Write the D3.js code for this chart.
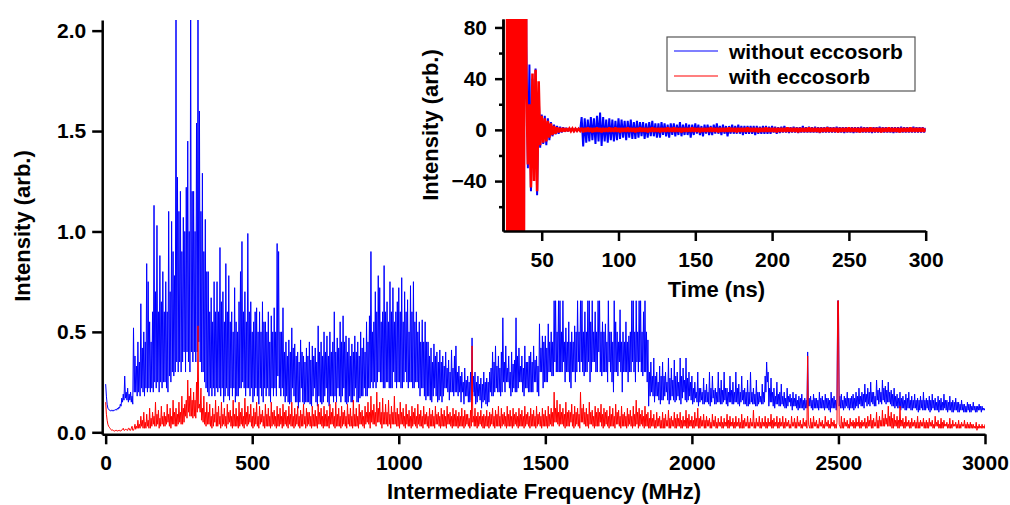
<!DOCTYPE html>
<html><head><meta charset="utf-8">
<script src="https://cdn.jsdelivr.net/npm/d3@7"></script>
<style>
html,body{margin:0;padding:0;background:#fff;}
svg{display:block;}
text{font-family:"Liberation Sans",Arial,sans-serif;font-weight:bold;fill:#000;}
</style></head><body>
<svg id="chart" width="1010" height="505"></svg>
<script>
// ---- main spectrum (MHz, 2.5 MHz sampling, one row = 50 MHz) ----
const freqStart = 0, freqStep = 2.5;
const blueSpectrum = [
0.24,0.18,0.14,0.12,0.115,0.11,0.11,0.105,0.11,0.11,0.105,0.11,0.11,0.11,0.115,0.11,0.12,0.115,0.125,0.12,
0.14,0.13,0.17,0.15,0.19,0.16,0.28,0.17,0.2,0.16,0.22,0.15,0.19,0.16,0.2,0.15,0.18,0.14,0.52,0.2,
0.38,0.2,0.33,0.18,0.45,0.2,0.35,0.18,0.64,0.22,0.42,0.2,0.5,0.18,0.45,0.22,0.84,0.2,0.75,0.22,
0.55,0.2,0.45,0.22,0.6,0.2,1.13,0.25,0.7,0.22,1.03,0.25,0.6,0.2,0.88,0.25,0.65,0.22,0.8,0.25,
0.6,0.25,0.75,0.22,0.6,0.2,1.1,0.28,0.7,0.25,1.05,0.3,0.9,0.28,0.78,0.3,2.1,0.35,1.27,0.3,
1.1,0.35,1.2,0.3,0.9,0.35,1.07,0.4,1.0,0.3,1.22,0.4,1.45,0.35,1.0,0.3,2.1,0.4,1.2,0.35,
1.2,0.4,1.0,0.35,1.54,0.4,2.1,0.45,1.6,0.35,1.1,0.3,1.29,0.3,0.9,0.25,1.06,0.22,0.8,0.2,
0.8,0.18,0.6,0.22,0.67,0.18,0.55,0.22,0.75,0.18,0.6,0.22,0.75,0.2,0.6,0.22,0.92,0.18,0.65,0.22,
0.7,0.15,0.55,0.18,0.84,0.22,0.6,0.18,0.78,0.16,0.55,0.22,0.6,0.18,0.5,0.22,0.72,0.15,0.55,0.18,
0.5,0.18,0.65,0.22,0.8,0.22,0.95,0.25,0.6,0.22,0.7,0.18,0.55,0.22,0.99,0.22,0.6,0.18,0.65,0.22,
0.5,0.15,0.55,0.18,0.6,0.22,0.62,0.18,0.5,0.14,0.6,0.22,0.5,0.18,0.65,0.15,0.55,0.22,0.55,0.18,
0.5,0.22,0.6,0.18,0.45,0.15,0.58,0.22,0.5,0.18,0.62,0.22,0.5,0.18,0.94,0.28,0.9,0.22,0.5,0.18,
0.5,0.22,0.62,0.18,0.4,0.15,0.45,0.18,0.38,0.15,0.46,0.14,0.4,0.15,0.52,0.22,0.42,0.18,0.44,0.15,
0.38,0.15,0.4,0.12,0.35,0.15,0.46,0.22,0.4,0.15,0.38,0.14,0.35,0.15,0.42,0.15,0.38,0.15,0.45,0.14,
0.36,0.13,0.43,0.18,0.38,0.22,0.42,0.15,0.35,0.13,0.53,0.18,0.4,0.15,0.45,0.14,0.38,0.15,0.5,0.18,
0.4,0.22,0.48,0.15,0.38,0.13,0.5,0.18,0.4,0.18,0.45,0.15,0.6,0.18,0.4,0.15,0.47,0.22,0.42,0.18,
0.55,0.15,0.45,0.18,0.58,0.22,0.45,0.15,0.48,0.14,0.4,0.15,0.47,0.18,0.38,0.15,0.44,0.15,0.4,0.18,
0.48,0.22,0.4,0.15,0.45,0.15,0.38,0.17,0.5,0.18,0.42,0.18,0.47,0.22,0.4,0.18,0.55,0.18,0.45,0.22,
0.58,0.22,0.9,0.25,0.5,0.22,0.55,0.25,0.7,0.22,0.6,0.25,0.78,0.3,0.72,0.25,0.55,0.25,0.6,0.22,
0.83,0.22,0.6,0.25,0.65,0.25,0.55,0.22,0.75,0.22,0.6,0.22,0.72,0.3,0.55,0.25,0.6,0.22,0.65,0.25,
0.72,0.25,0.6,0.22,0.77,0.22,0.55,0.25,0.7,0.3,0.6,0.25,0.66,0.22,0.5,0.25,0.73,0.25,0.6,0.22,
0.75,0.22,0.55,0.25,0.6,0.25,0.5,0.22,0.55,0.18,0.45,0.22,0.56,0.22,0.45,0.18,0.55,0.16,0.45,0.18,
0.45,0.18,0.38,0.16,0.42,0.15,0.35,0.18,0.44,0.22,0.38,0.18,0.4,0.15,0.35,0.16,0.41,0.18,0.35,0.15,
0.38,0.18,0.33,0.22,0.4,0.22,0.32,0.2,0.36,0.16,0.3,0.2,0.41,0.2,0.32,0.18,0.38,0.2,0.43,0.2,
0.3,0.18,0.33,0.2,0.28,0.15,0.3,0.2,0.25,0.14,0.32,0.18,0.26,0.18,0.28,0.15,0.25,0.15,0.3,0.16,
0.47,0.2,0.28,0.18,0.3,0.14,0.25,0.15,0.28,0.18,0.24,0.16,0.27,0.12,0.24,0.15,0.3,0.16,0.25,0.14,
0.27,0.13,0.25,0.15,0.3,0.2,0.32,0.18,0.4,0.18,0.35,0.2,0.43,0.22,0.33,0.2,0.38,0.2,0.32,0.18,
0.4,0.2,0.57,0.25,0.35,0.2,0.43,0.25,0.32,0.25,0.38,0.22,0.3,0.18,0.4,0.2,0.34,0.22,0.36,0.2,
0.57,0.2,0.38,0.22,0.42,0.25,0.33,0.25,0.38,0.2,0.32,0.18,0.43,0.22,0.35,0.22,0.35,0.2,0.38,0.2,
0.4,0.2,0.35,0.2,0.43,0.25,0.36,0.25,0.38,0.2,0.33,0.18,0.54,0.3,0.42,0.3,0.48,0.22,0.45,0.25,
0.48,0.25,0.42,0.25,0.54,0.3,0.45,0.3,0.5,0.28,0.45,0.28,0.655,0.35,0.655,0.3,0.5,0.3,0.655,0.3,
0.655,0.3,0.5,0.3,0.655,0.35,0.45,0.25,0.52,0.3,0.45,0.3,0.55,0.25,0.45,0.22,0.5,0.3,0.45,0.3,
0.53,0.25,0.5,0.3,0.655,0.35,0.5,0.3,0.655,0.35,0.655,0.3,0.5,0.28,0.6,0.3,0.5,0.3,0.655,0.35,
0.655,0.25,0.55,0.3,0.655,0.35,0.5,0.35,0.6,0.3,0.5,0.3,0.655,0.4,0.655,0.3,0.5,0.28,0.55,0.3,
0.5,0.3,0.54,0.3,0.45,0.25,0.655,0.35,0.5,0.3,0.5,0.25,0.45,0.2,0.655,0.3,0.55,0.3,0.5,0.28,
0.45,0.35,0.61,0.3,0.45,0.2,0.5,0.3,0.45,0.3,0.55,0.3,0.45,0.25,0.48,0.3,0.5,0.3,0.655,0.35,
0.655,0.3,0.5,0.25,0.655,0.35,0.5,0.3,0.655,0.35,0.655,0.3,0.5,0.28,0.6,0.3,0.655,0.3,0.5,0.25,
0.46,0.13,0.3,0.18,0.35,0.2,0.28,0.18,0.37,0.15,0.28,0.18,0.3,0.18,0.25,0.16,0.33,0.14,0.28,0.16,
0.35,0.16,0.28,0.18,0.3,0.2,0.25,0.16,0.37,0.14,0.27,0.16,0.32,0.18,0.26,0.16,0.36,0.15,0.28,0.16,
0.3,0.18,0.25,0.16,0.37,0.14,0.28,0.17,0.32,0.2,0.26,0.16,0.37,0.15,0.27,0.16,0.3,0.18,0.25,0.16,
0.28,0.14,0.22,0.15,0.25,0.17,0.2,0.15,0.3,0.13,0.22,0.15,0.22,0.16,0.2,0.14,0.27,0.14,0.21,0.15,
0.24,0.15,0.2,0.14,0.3,0.13,0.22,0.15,0.28,0.17,0.21,0.14,0.22,0.14,0.2,0.15,0.3,0.15,0.22,0.14,
0.26,0.14,0.21,0.15,0.3,0.16,0.22,0.14,0.22,0.13,0.2,0.15,0.28,0.15,0.21,0.14,0.25,0.14,0.2,0.15,
0.3,0.15,0.22,0.14,0.24,0.13,0.2,0.15,0.28,0.16,0.21,0.14,0.22,0.14,0.2,0.13,0.26,0.13,0.2,0.14,
0.3,0.15,0.2,0.14,0.22,0.14,0.19,0.13,0.26,0.13,0.2,0.14,0.2,0.15,0.18,0.14,0.24,0.14,0.2,0.15,
0.28,0.2,0.35,0.25,0.3,0.13,0.22,0.15,0.27,0.15,0.2,0.13,0.22,0.12,0.18,0.14,0.25,0.14,0.19,0.13,
0.2,0.13,0.24,0.14,0.18,0.13,0.2,0.12,0.17,0.12,0.22,0.13,0.18,0.15,0.19,0.13,0.17,0.11,0.2,0.13,
0.17,0.13,0.19,0.12,0.16,0.11,0.18,0.12,0.17,0.12,0.19,0.12,0.16,0.11,0.17,0.12,0.16,0.12,0.4,0.13,
0.17,0.13,0.18,0.12,0.16,0.11,0.19,0.12,0.17,0.12,0.17,0.12,0.16,0.11,0.2,0.12,0.17,0.12,0.18,0.12,
0.16,0.11,0.19,0.12,0.17,0.12,0.17,0.11,0.16,0.1,0.2,0.12,0.17,0.12,0.18,0.12,0.16,0.11,0.17,0.655,
0.655,0.13,0.18,0.12,0.19,0.12,0.16,0.11,0.18,0.12,0.17,0.13,0.2,0.12,0.17,0.11,0.17,0.12,0.18,0.12,
0.19,0.11,0.17,0.12,0.2,0.13,0.18,0.12,0.22,0.14,0.18,0.13,0.2,0.13,0.19,0.12,0.24,0.15,0.19,0.13,
0.22,0.14,0.2,0.13,0.25,0.15,0.2,0.14,0.2,0.13,0.18,0.13,0.26,0.16,0.21,0.14,0.22,0.15,0.2,0.14,
0.26,0.16,0.22,0.15,0.23,0.14,0.21,0.15,0.25,0.15,0.2,0.14,0.21,0.13,0.19,0.13,0.22,0.12,0.18,0.13,
0.19,0.12,0.17,0.12,0.2,0.11,0.17,0.12,0.18,0.12,0.16,0.11,0.19,0.11,0.17,0.12,0.2,0.12,0.16,0.11,
0.18,0.11,0.16,0.12,0.19,0.12,0.16,0.11,0.17,0.1,0.16,0.11,0.18,0.12,0.16,0.11,0.2,0.11,0.16,0.11,
0.17,0.12,0.16,0.11,0.18,0.1,0.16,0.11,0.19,0.12,0.16,0.11,0.17,0.11,0.15,0.11,0.18,0.1,0.16,0.11,
0.17,0.11,0.15,0.11,0.19,0.12,0.16,0.11,0.16,0.1,0.15,0.11,0.18,0.11,0.15,0.1,0.16,0.1,0.15,0.11,
0.17,0.11,0.15,0.1,0.15,0.1,0.14,0.11,0.16,0.11,0.14,0.1,0.14,0.1,0.13,0.1,0.15,0.11,0.14,0.1,
0.14,0.1,0.13,0.11,0.15,0.11,0.13,0.1,0.13,0.1,0.13,0.11,0.14,0.11,0.13,0.1,0.13,0.11,0.12,0.11,
0.12];
const redSpectrum = [
0.15,0.09,0.06,0.04,0.03,0.025,0.02,0.015,0.01,0.012,0.01,0.008,0.005,0.01,0.008,0.01,0.005,0.01,0.008,0.01,
0.005,0.01,0.01,0.015,0.02,0.01,0.01,0.015,0.015,0.01,0.01,0.02,0.02,0.01,0.01,0.02,0.03,0.01,0.01,0.02,
0.04,0.015,0.03,0.02,0.06,0.02,0.04,0.02,0.08,0.03,0.06,0.02,0.1,0.02,0.05,0.02,0.09,0.03,0.06,0.02,
0.12,0.02,0.07,0.03,0.1,0.04,0.08,0.03,0.15,0.03,0.09,0.04,0.11,0.02,0.07,0.03,0.13,0.04,0.08,0.03,
0.1,0.03,0.08,0.04,0.14,0.05,0.09,0.03,0.12,0.02,0.08,0.04,0.16,0.04,0.1,0.03,0.12,0.03,0.09,0.04,
0.15,0.05,0.1,0.04,0.18,0.04,0.12,0.05,0.14,0.08,0.16,0.07,0.26,0.1,0.18,0.08,0.22,0.08,0.16,0.07,
0.2,0.08,0.16,0.07,0.25,0.1,0.53,0.12,0.14,0.1,0.22,0.06,0.12,0.05,0.18,0.04,0.1,0.03,0.15,0.04,
0.1,0.04,0.14,0.03,0.08,0.02,0.12,0.03,0.09,0.05,0.16,0.03,0.1,0.03,0.13,0.04,0.08,0.02,0.15,0.03,
0.09,0.04,0.12,0.03,0.08,0.02,0.14,0.04,0.1,0.05,0.11,0.03,0.08,0.02,0.16,0.03,0.09,0.03,0.12,0.03,
0.08,0.02,0.15,0.03,0.1,0.04,0.12,0.03,0.08,0.02,0.17,0.04,0.1,0.03,0.13,0.04,0.09,0.05,0.14,0.03,
0.08,0.02,0.12,0.03,0.1,0.04,0.15,0.03,0.08,0.02,0.13,0.04,0.09,0.05,0.11,0.03,0.08,0.02,0.14,0.03,
0.09,0.03,0.12,0.03,0.08,0.02,0.15,0.03,0.1,0.04,0.11,0.03,0.08,0.02,0.13,0.03,0.09,0.03,0.12,0.04,
0.08,0.02,0.14,0.03,0.1,0.04,0.11,0.03,0.08,0.02,0.13,0.04,0.09,0.03,0.15,0.03,0.08,0.02,0.12,0.03,
0.09,0.04,0.13,0.03,0.08,0.02,0.11,0.03,0.09,0.03,0.14,0.04,0.08,0.02,0.12,0.03,0.1,0.04,0.1,0.03,
0.08,0.02,0.13,0.03,0.09,0.03,0.11,0.03,0.08,0.02,0.14,0.04,0.1,0.04,0.12,0.03,0.08,0.02,0.13,0.03,
0.09,0.03,0.11,0.03,0.08,0.02,0.14,0.04,0.1,0.04,0.12,0.03,0.08,0.02,0.15,0.03,0.09,0.03,0.12,0.03,
0.08,0.02,0.13,0.03,0.1,0.04,0.11,0.03,0.08,0.02,0.14,0.04,0.09,0.03,0.12,0.03,0.08,0.02,0.16,0.03,
0.09,0.03,0.12,0.03,0.08,0.02,0.14,0.04,0.1,0.04,0.11,0.03,0.08,0.02,0.13,0.04,0.1,0.05,0.15,0.04,
0.1,0.02,0.18,0.05,0.11,0.04,0.14,0.04,0.1,0.03,0.2,0.05,0.12,0.05,0.15,0.04,0.1,0.02,0.17,0.04,
0.1,0.04,0.14,0.04,0.1,0.03,0.16,0.04,0.09,0.02,0.13,0.04,0.1,0.04,0.18,0.04,0.1,0.03,0.12,0.03,
0.09,0.02,0.15,0.04,0.1,0.04,0.12,0.03,0.08,0.02,0.14,0.04,0.09,0.03,0.11,0.03,0.08,0.02,0.13,0.03,
0.1,0.04,0.12,0.03,0.08,0.02,0.14,0.04,0.09,0.03,0.11,0.03,0.08,0.02,0.13,0.04,0.09,0.04,0.1,0.03,
0.08,0.02,0.12,0.03,0.09,0.03,0.11,0.03,0.08,0.02,0.13,0.04,0.09,0.04,0.1,0.03,0.08,0.02,0.12,0.03,
0.09,0.03,0.11,0.03,0.08,0.02,0.13,0.04,0.09,0.04,0.1,0.03,0.08,0.02,0.12,0.03,0.09,0.03,0.11,0.03,
0.08,0.02,0.1,0.03,0.08,0.03,0.12,0.03,0.08,0.02,0.11,0.03,0.09,0.04,0.09,0.03,0.07,0.02,0.11,0.03,
0.43,0.05,0.08,0.03,0.12,0.03,0.08,0.02,0.1,0.03,0.08,0.04,0.11,0.03,0.08,0.02,0.09,0.02,0.08,0.03,
0.11,0.03,0.08,0.02,0.1,0.03,0.09,0.04,0.12,0.03,0.08,0.02,0.11,0.03,0.09,0.03,0.13,0.03,0.08,0.02,
0.12,0.03,0.09,0.04,0.1,0.03,0.08,0.02,0.13,0.03,0.09,0.03,0.11,0.03,0.08,0.02,0.12,0.03,0.09,0.04,
0.1,0.03,0.08,0.02,0.12,0.03,0.09,0.03,0.11,0.03,0.08,0.02,0.13,0.03,0.09,0.04,0.1,0.03,0.08,0.02,
0.12,0.03,0.09,0.03,0.11,0.03,0.08,0.02,0.13,0.03,0.09,0.04,0.1,0.03,0.08,0.02,0.12,0.03,0.09,0.03,
0.11,0.03,0.08,0.02,0.13,0.03,0.09,0.04,0.12,0.03,0.1,0.03,0.2,0.05,0.12,0.05,0.16,0.04,0.1,0.03,
0.14,0.04,0.1,0.04,0.12,0.03,0.09,0.02,0.15,0.03,0.1,0.03,0.11,0.03,0.1,0.05,0.14,0.03,0.09,0.02,
0.13,0.03,0.1,0.04,0.12,0.03,0.09,0.02,0.2,0.05,0.12,0.05,0.14,0.04,0.1,0.03,0.12,0.03,0.09,0.02,
0.15,0.04,0.1,0.04,0.11,0.03,0.08,0.02,0.13,0.03,0.1,0.03,0.12,0.03,0.1,0.05,0.14,0.03,0.09,0.02,
0.12,0.03,0.1,0.04,0.11,0.03,0.08,0.02,0.13,0.03,0.09,0.03,0.12,0.03,0.08,0.02,0.14,0.04,0.1,0.04,
0.11,0.03,0.08,0.02,0.13,0.03,0.09,0.03,0.1,0.03,0.08,0.02,0.12,0.03,0.09,0.04,0.11,0.03,0.08,0.02,
0.13,0.03,0.09,0.03,0.16,0.04,0.1,0.02,0.12,0.03,0.09,0.04,0.11,0.03,0.08,0.02,0.13,0.03,0.09,0.03,
0.1,0.02,0.07,0.02,0.11,0.03,0.07,0.03,0.09,0.02,0.06,0.02,0.1,0.03,0.07,0.03,0.08,0.02,0.06,0.02,
0.1,0.02,0.07,0.02,0.09,0.03,0.06,0.03,0.11,0.02,0.07,0.02,0.08,0.03,0.06,0.03,0.1,0.02,0.07,0.02,
0.09,0.03,0.07,0.03,0.1,0.02,0.06,0.02,0.08,0.03,0.06,0.03,0.11,0.02,0.07,0.02,0.09,0.03,0.06,0.03,
0.08,0.02,0.06,0.02,0.1,0.03,0.07,0.03,0.12,0.02,0.07,0.02,0.08,0.03,0.06,0.03,0.09,0.02,0.06,0.02,
0.08,0.03,0.06,0.03,0.07,0.02,0.05,0.02,0.09,0.03,0.06,0.03,0.08,0.02,0.05,0.02,0.07,0.03,0.05,0.03,
0.08,0.02,0.05,0.02,0.07,0.03,0.05,0.03,0.09,0.02,0.06,0.02,0.08,0.03,0.05,0.03,0.07,0.02,0.05,0.02,
0.08,0.03,0.05,0.03,0.07,0.02,0.05,0.02,0.09,0.02,0.06,0.02,0.07,0.03,0.05,0.03,0.08,0.02,0.05,0.02,
0.07,0.03,0.05,0.03,0.11,0.02,0.05,0.02,0.07,0.03,0.05,0.03,0.08,0.02,0.05,0.02,0.07,0.03,0.05,0.03,
0.08,0.02,0.05,0.02,0.07,0.03,0.05,0.03,0.09,0.02,0.06,0.02,0.07,0.03,0.05,0.03,0.08,0.02,0.05,0.02,
0.07,0.03,0.05,0.03,0.08,0.02,0.05,0.02,0.07,0.03,0.05,0.03,0.06,0.02,0.04,0.02,0.08,0.03,0.05,0.03,
0.07,0.02,0.05,0.02,0.08,0.03,0.05,0.03,0.06,0.02,0.04,0.02,0.07,0.03,0.05,0.03,0.06,0.02,0.38,0.04,
0.03,0.02,0.07,0.02,0.05,0.02,0.08,0.03,0.05,0.03,0.06,0.02,0.04,0.02,0.07,0.03,0.05,0.03,0.06,0.02,
0.04,0.02,0.08,0.03,0.05,0.03,0.06,0.02,0.04,0.02,0.07,0.03,0.05,0.03,0.06,0.02,0.04,0.02,0.05,0.655,
0.655,0.04,0.03,0.02,0.08,0.02,0.05,0.02,0.07,0.03,0.05,0.03,0.06,0.02,0.04,0.02,0.07,0.03,0.05,0.03,
0.06,0.02,0.05,0.02,0.07,0.03,0.05,0.03,0.08,0.02,0.05,0.02,0.06,0.03,0.05,0.03,0.07,0.02,0.05,0.02,
0.08,0.03,0.06,0.03,0.09,0.02,0.06,0.02,0.07,0.03,0.05,0.03,0.1,0.02,0.06,0.02,0.08,0.03,0.06,0.03,
0.11,0.03,0.07,0.03,0.09,0.04,0.07,0.03,0.13,0.03,0.08,0.03,0.1,0.02,0.07,0.02,0.09,0.03,0.06,0.03,
0.08,0.02,0.06,0.02,0.13,0.03,0.06,0.03,0.07,0.02,0.05,0.02,0.08,0.03,0.05,0.03,0.06,0.02,0.05,0.02,
0.07,0.03,0.05,0.03,0.06,0.02,0.05,0.02,0.08,0.02,0.05,0.02,0.06,0.03,0.05,0.03,0.07,0.02,0.05,0.02,
0.06,0.02,0.05,0.02,0.07,0.03,0.05,0.03,0.06,0.02,0.04,0.02,0.08,0.03,0.05,0.03,0.06,0.02,0.04,0.02,
0.07,0.02,0.05,0.02,0.06,0.03,0.04,0.03,0.05,0.02,0.04,0.02,0.07,0.02,0.04,0.02,0.06,0.03,0.04,0.03,
0.05,0.02,0.04,0.02,0.06,0.02,0.04,0.02,0.05,0.03,0.04,0.03,0.06,0.02,0.04,0.02,0.05,0.02,0.04,0.02,
0.05,0.02,0.04,0.02,0.04,0.02,0.03,0.02,0.05,0.01,0.03,0.02,0.04,0.02,0.03,0.02,0.04,0.02,0.03,0.02,
0.04];

// ---- inset time trace (ns, 1 ns sampling) ----
const timeStart = 27, timeStep = 1;
const blueTrace = [
560,-540,550,-570,540,-550,565,-545,555,-560,540,-550,390,
65,-30,51,-48,40,-35,48,-51,30,-14,
12,-11,11,-12,9,-8,6,-5,4,-3.5,
3,-3,2.5,-2,2,-1.5,1.5,-1.2,1.2,-1,
1,-1,0.8,-0.8,0.8,-0.8,
10,-13,9,-10,8,-9,10,-8,9,-11,
11,-9,13.5,-12.5,10,-9,8,-10,9,-8,
8,-9,7,-8,9,-7,8,-6,7,-8,
7,-6,8,-7,6,-7,7,-6,6,-5,
6,-7,5,-6,6,-5,7,-5,5,-6,
5,-6,6,-4,5,-5,4,-6,5,-4,
5,-5,4,-4,6,-5,4,-4,5,-4,
4,-6,4,-4,5,-3,4,-4,3,-5,
4,-3,4,-4,3,-4,4,-3,5,-3,
3,-4,4,-3,3,-5,3,-3,4,-3,
3,-3,4,-3,3,-4,3,-3,3,-3,
3,-3,3,-4,3,-3,2.5,-3,3,-3,
3,-3,2.5,-3,3,-2,2.5,-3,2,-2.5,
2.5,-2,3,-2,2,-2.5,2,-2,2.5,-2,
2,-2.5,2,-2,3,-2,2,-2,2.5,-2,
2,-2,2.5,-2,2,-2.5,2,-2,2,-2,
2.5,-2,2,-2,2,-2,2.5,-2,2,-2,
2,-2.5,2,-2,2,-2,2,-2.5,2,-2,
2,-2,2.5,-2,2,-2,2,-2,2,-2.5,
2,-2,2,-2,2.5,-2,2,-2,2,-2,
2,-2,2,-2.5,2,-2,2,-2,2.5,-2,
2,-2,2,-2,2,-2,2.5,-2,2,-2,
2,-2,2,-2,1.5];
const redTrace = [
590,-610,600,-590,610,-600,590,-605,600,-595,610,-600,580,
40,-27,20,-45,44,-40,47,-48,38,-12,
11,-10,9,-9,7,-6,5,-4,3,-3,
2,-2,1.5,-1.5,1.5,-1.2,1.2,-1,1,-1,
1,-1,0.8,-0.8,0.8,-0.8,
1.5,-2,1.5,-1.5,2,-1.5,1.5,-2,1.5,-1.5,
2,-1.5,1.5,-2,1.5,-1.5,1.5,-1.5,2,-1.5,
1.5,-1.5,2,-1.5,1.5,-2,1.5,-1.5,1.5,-1.5,
2,-1.5,1.5,-1.5,1.5,-2,1.5,-1.5,2,-1.5,
1.5,-1.5,1.5,-2,1.5,-1.5,2,-1.5,1.5,-1.5,
1.5,-2,1.5,-1.5,1.5,-1.5,2,-1.5,1.5,-1.5,
2,-1.5,1.5,-1.5,1.5,-2,1.5,-1.5,1.5,-1.5,
1.5,-1.5,2,-1.5,1.5,-1.5,1.5,-2,1.5,-1.5,
1.5,-1.5,1.5,-1.5,2,-1.5,1.5,-1.5,1.5,-2,
1.5,-1.5,1.5,-1.5,1.5,-1.5,2,-1.5,1.5,-1.5,
1.5,-2,1.5,-1.5,1.5,-1.5,1.5,-1.5,2,-1.5,
1.5,-1.5,1.5,-1.5,1.5,-2,1.5,-1.5,1.5,-1.5,
2,-1.5,1.5,-1.5,1.5,-1.5,1.5,-2,1.5,-1.5,
1.5,-1.5,1.5,-1.5,2,-1.5,1.5,-1.5,1.5,-1.5,
1.5,-2,1.5,-1.5,1.5,-1.5,1.5,-1.5,2,-1.5,
1.5,-1.5,1.5,-1.5,1.5,-2,1.5,-1.5,1.5,-1.5,
2,-1.5,1.5,-1.5,1.5,-1.5,1.5,-2,1.5,-1.5,
1.5,-1.5,1.5,-1.5,2,-1.5,1.5,-1.5,1.5,-1.5,
1.5,-2,1.5,-1.5,1.5,-1.5,1.5,-1.5,2,-1.5,
1.5,-1.5,1.5,-1.5,1.5,-2,1.5,-1.5,1.5,-1.5,
2,-1.5,1.5,-1.5,1.5,-1.5,1.5,-2,1.5,-1.5,
1.5,-1.5,1.5,-1.5,2,-1.5,1.5,-1.5,1.5,-1.5,
1.5,-1.5,1.5,-1.5,1];

// ---- ticks / labels ----
const mainXTicks = [0,500,1000,1500,2000,2500,3000];
const mainYTicks = [0,0.5,1.0,1.5,2.0];
const insetXTicks = [50,100,150,200,250,300];
const insetYTicks = [-40,0,40,80];
const insetYMinorTicks = [-60,-20,20,60];
const seriesNames = ["without eccosorb","with eccosorb"];
const seriesColors = ["#0000ff","#ff0000"];
const mainXTitle = "Intermediate Frequency (MHz)";
const mainYTitle = "Intensity (arb.)";
const insetXTitle = "Time (ns)";
const insetYTitle = "Intensity (arb.)";

const svg = d3.select("#chart");
const FS = 21, TS = 22;

// ---------- MAIN ----------
const xMain = d3.scaleLinear().domain([-12.5, 3000]).range([102, 985]);
const yMain = d3.scaleLinear().domain([-0.01, 2.053]).range([434.3, 20]);

svg.append("clipPath").attr("id","clipMain").append("rect")
  .attr("x",102).attr("y",20).attr("width",883).attr("height",414.3);

const mainLine = d3.line()
  .x((d,i)=>xMain(freqStart + i*freqStep))
  .y(d=>yMain(d));
const gMain = svg.append("g").attr("clip-path","url(#clipMain)");
[blueSpectrum, redSpectrum].forEach((s,k)=>{
  gMain.append("path").datum(s).attr("d", mainLine)
    .attr("fill","none").attr("stroke", seriesColors[k]).attr("stroke-width",1)
    .attr("stroke-linejoin","miter").attr("stroke-miterlimit",2);
});

function styleAxis(g, w){
  g.selectAll("path.domain").attr("stroke","#000").attr("stroke-width",w);
  g.selectAll(".tick line").attr("stroke","#000").attr("stroke-width",w);
  g.selectAll(".tick text").attr("font-size",FS).attr("font-family",'"Liberation Sans",Arial,sans-serif').attr("font-weight","bold").attr("fill","#000");
}

const gxm = svg.append("g").attr("transform","translate(0,434.3)")
  .call(d3.axisBottom(xMain).tickValues(mainXTicks).tickFormat(d3.format("d")).tickSize(10).tickSizeOuter(0).tickPadding(11));
styleAxis(gxm, 2.5);
const gym = svg.append("g").attr("transform","translate(102.2,0)")
  .call(d3.axisLeft(yMain).tickValues(mainYTicks).tickFormat(d3.format(".1f")).tickSize(10).tickSizeOuter(0).tickPadding(6));
styleAxis(gym, 2.5);

svg.append("text").attr("x",544).attr("y",499).attr("text-anchor","middle")
  .attr("font-size",TS).text(mainXTitle);
svg.append("text").attr("transform","translate(30,226) rotate(-90)").attr("text-anchor","middle")
  .attr("font-size",TS).text(mainYTitle);

// ---------- INSET ----------
const xIn = d3.scaleLinear().domain([24.8, 300]).range([503, 925.7]);
const yIn = d3.scaleLinear().domain([-79, 86.6]).range([231, 19]);

svg.append("clipPath").attr("id","clipIn").append("rect")
  .attr("x",503).attr("y",19).attr("width",422.7).attr("height",212);
const inLine = d3.line()
  .x((d,i)=>xIn(timeStart + i*timeStep))
  .y(d=>yIn(d));
const gIn = svg.append("g").attr("clip-path","url(#clipIn)");
[blueTrace, redTrace].forEach((s,k)=>{
  gIn.append("path").datum(s).attr("d", inLine)
    .attr("fill","none").attr("stroke", seriesColors[k]).attr("stroke-width", k ? 2.6 : 2)
    .attr("stroke-linejoin","miter").attr("stroke-miterlimit",2);
});

const gxi = svg.append("g").attr("transform","translate(0,231)")
  .call(d3.axisBottom(xIn).tickValues(insetXTicks).tickFormat(d3.format("d")).tickSize(10).tickSizeOuter(0).tickPadding(11));
styleAxis(gxi, 2.5);
const gyiMinor = svg.append("g").attr("transform","translate(503,0)")
  .call(d3.axisLeft(yIn).tickValues(insetYMinorTicks).tickFormat("").tickSize(4).tickSizeOuter(0));
styleAxis(gyiMinor, 2.5);
const gyi = svg.append("g").attr("transform","translate(503,0)")
  .call(d3.axisLeft(yIn).tickValues(insetYTicks).tickFormat(d3.format("d")).tickSize(8).tickSizeOuter(0).tickPadding(8));
styleAxis(gyi, 2.5);

svg.append("text").attr("x",716.5).attr("y",296.5).attr("text-anchor","middle")
  .attr("font-size",TS).text(insetXTitle);
svg.append("text").attr("transform","translate(438,125) rotate(-90)").attr("text-anchor","middle")
  .attr("font-size",TS).text(insetYTitle);

// legend
const lg = svg.append("g");
lg.append("rect").attr("x",667).attr("y",37).attr("width",248).attr("height",54)
  .attr("fill","#fff").attr("stroke","#555").attr("stroke-width",1.2);
seriesNames.forEach((n,k)=>{
  const yy = 51 + k*25;
  lg.append("line").attr("x1",674).attr("x2",718).attr("y1",yy).attr("y2",yy)
    .attr("stroke",seriesColors[k]).attr("stroke-width",1.2);
  lg.append("text").attr("x",729).attr("y",yy+8).attr("font-size",FS).text(n);
});
</script>
</body></html>
